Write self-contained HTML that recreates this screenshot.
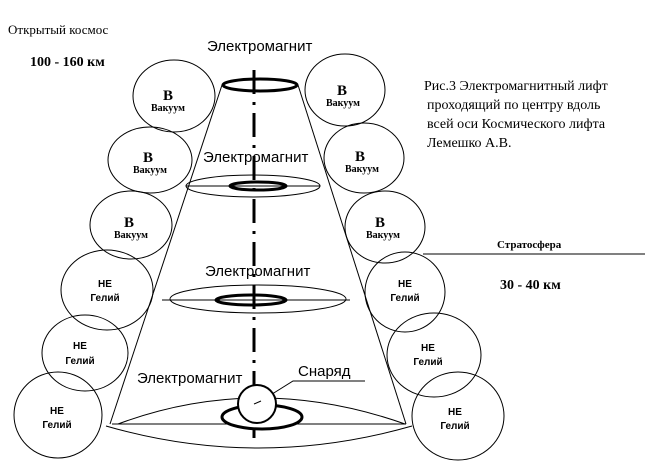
<!DOCTYPE html>
<html><head><meta charset="utf-8"><style>
html,body{margin:0;padding:0;background:#fff;width:650px;height:473px;overflow:hidden}
svg{display:block}
.s{font-family:"Liberation Serif",serif}
.a{font-family:"Liberation Sans",sans-serif}
</style></head><body>
<svg width="650" height="473" viewBox="0 0 650 473" xmlns="http://www.w3.org/2000/svg">
<g fill="none" stroke="#000" stroke-width="1">
<ellipse cx="174" cy="96" rx="41" ry="36"/>
<ellipse cx="150" cy="160" rx="42" ry="33"/>
<ellipse cx="131" cy="225" rx="41" ry="34"/>
<ellipse cx="107" cy="290" rx="46" ry="40"/>
<ellipse cx="85" cy="353" rx="43" ry="38"/>
<ellipse cx="58" cy="415" rx="44" ry="43"/>
<ellipse cx="345" cy="90" rx="40" ry="36"/>
<ellipse cx="364" cy="158" rx="40" ry="35"/>
<ellipse cx="385" cy="227" rx="40" ry="36"/>
<ellipse cx="405" cy="292" rx="40" ry="40"/>
<ellipse cx="434" cy="355" rx="47" ry="42"/>
<ellipse cx="458" cy="416" rx="46" ry="44"/>
<line x1="222" y1="85" x2="110" y2="424"/>
<line x1="298" y1="85" x2="406" y2="424"/>
<ellipse cx="253" cy="186" rx="67" ry="11"/>
<line x1="186" y1="186" x2="320" y2="186"/>
<ellipse cx="258" cy="299" rx="88" ry="14"/>
<line x1="162" y1="300" x2="350" y2="300"/>
<path d="M118 424 Q258 372 405 424"/>
<path d="M106 426 Q258 470 412 426"/>
<line x1="112" y1="424" x2="406" y2="424"/>
<polyline points="261,401 293,381 365,381"/>
</g>
<line x1="254" y1="70" x2="254" y2="446" stroke="#000" stroke-width="3" stroke-dasharray="24,8,3,8"/>
<g fill="none" stroke="#000" stroke-width="3">
<ellipse cx="260" cy="85" rx="37" ry="6"/>
<ellipse cx="258" cy="186" rx="28" ry="4"/>
<ellipse cx="251" cy="300" rx="35" ry="5"/>
<ellipse cx="262" cy="417" rx="40" ry="12" fill="#fff"/>
</g>
<circle cx="257" cy="404" r="19" fill="#fff" stroke="#000" stroke-width="2"/>
<path d="M254 404 L261 401" stroke="#000" stroke-width="1"/>
<g class="s" fill="#000">
<text x="8" y="34" font-size="13">Открытый космос</text>
<text x="30" y="66" font-size="14" font-weight="bold">100 - 160 км</text>
<text x="424" y="90" font-size="14">Рис.3  Электромагнитный лифт</text>
<text x="427" y="109" font-size="14">проходящий по центру вдоль</text>
<text x="427" y="128" font-size="14">всей оси Космического лифта</text>
<text x="427" y="147" font-size="14">Лемешко А.В.</text>
<text x="497" y="248" font-size="11" font-weight="bold">Стратосфера</text>
<text x="500" y="289" font-size="14" font-weight="bold">30 - 40 км</text>
</g>
<line x1="423" y1="254" x2="645" y2="254" stroke="#000" stroke-width="1"/>
<g class="a" fill="#000" font-size="15">
<text x="207" y="51">Электромагнит</text>
<text x="203" y="162">Электромагнит</text>
<text x="205" y="276">Электромагнит</text>
<text x="137" y="383">Электромагнит</text>
<text x="298" y="376">Снаряд</text>
</g>
<g class="s" fill="#000" font-weight="bold" text-anchor="middle">
<text x="168" y="100" font-size="15">В</text><text x="168" y="111" font-size="10">Вакуум</text>
<text x="148" y="162" font-size="15">В</text><text x="150" y="173" font-size="10">Вакуум</text>
<text x="129" y="227" font-size="15">В</text><text x="131" y="238" font-size="10">Вакуум</text>
<text x="342" y="95" font-size="15">В</text><text x="343" y="106" font-size="10">Вакуум</text>
<text x="360" y="161" font-size="15">В</text><text x="362" y="172" font-size="10">Вакуум</text>
<text x="380" y="227" font-size="15">В</text><text x="383" y="238" font-size="10">Вакуум</text>
</g>
<g class="a" fill="#000" font-weight="bold" font-size="10" text-anchor="middle">
<text x="105" y="287">НЕ</text><text x="105" y="301">Гелий</text>
<text x="80" y="349">НЕ</text><text x="80" y="364">Гелий</text>
<text x="57" y="414">НЕ</text><text x="57" y="428">Гелий</text>
<text x="405" y="287">НЕ</text><text x="405" y="301">Гелий</text>
<text x="428" y="351">НЕ</text><text x="428" y="365">Гелий</text>
<text x="455" y="415">НЕ</text><text x="455" y="429">Гелий</text>
</g>
</svg>
</body></html>
